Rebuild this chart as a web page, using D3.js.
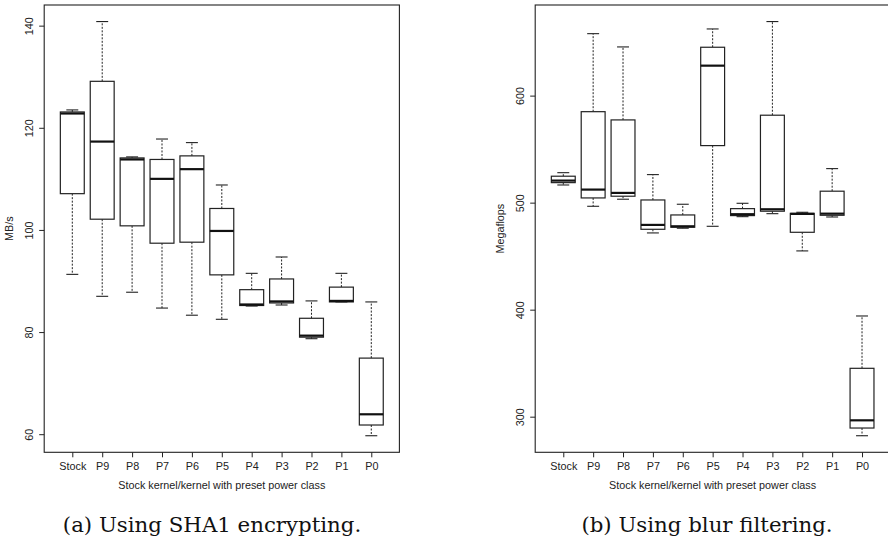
<!DOCTYPE html>
<html>
<head>
<meta charset="utf-8">
<script src="https://cdn.jsdelivr.net/npm/d3@7"></script>
<style>
  html, body { margin: 0; padding: 0; background: #fff; }
  svg { display: block; }
  .tick text { font-family: "Liberation Sans", Arial, sans-serif; font-size: 10.8px; fill: #222; }
  .axis-title { font-family: "Liberation Sans", Arial, sans-serif; font-size: 10.8px; fill: #222; }
  .caption { font-family: "DejaVu Serif", serif; font-size: 21.3px; fill: #111; }
</style>
</head>
<body>
<svg id="chart" width="888" height="541"></svg>
<script>
// Power-class categories on the x axis
const categories = ["Stock", "P9", "P8", "P7", "P6", "P5", "P4", "P3", "P2", "P1", "P0"];

// (a) SHA1 encrypting throughput, MB/s — five-number summaries per category
const sha1Min    = [91.3,  87.0,  87.8,  84.7,  83.3,  82.5, 85.1, 85.3, 78.7, 85.9, 59.7];
const sha1Q1     = [107.1, 102.1, 100.8, 97.4,  97.6,  91.2, 85.2, 85.7, 79.0, 85.9, 61.8];
const sha1Median = [122.8, 117.3, 113.8, 110.0, 111.9, 99.8, 85.4, 86.0, 79.3, 86.1, 63.9];
const sha1Q3     = [123.1, 129.1, 114.1, 113.8, 114.5, 104.2, 88.3, 90.4, 82.7, 88.8, 74.9];
const sha1Max    = [123.5, 140.8, 114.3, 117.8, 117.1, 108.8, 91.5, 94.7, 86.1, 91.5, 85.9];
const sha1Ticks  = [60, 80, 100, 120, 140];

// (b) Blur filtering performance, Megaflops
const blurMin    = [516.5, 496.6, 503.2, 471.7, 476.1, 477.9, 486.9, 489.7, 454.9, 486.6, 282.2];
const blurQ1     = [518.7, 504.4, 506.0, 475.1, 477.0, 553.3, 487.9, 492.0, 472.3, 488.2, 289.4];
const blurMedian = [520.6, 512.2, 509.1, 479.2, 477.9, 628.0, 489.2, 493.8, 489.5, 489.7, 296.6];
const blurQ3     = [524.7, 585.0, 577.3, 502.5, 488.5, 645.2, 494.4, 581.7, 490.0, 510.7, 345.2];
const blurMax    = [528.0, 657.9, 645.5, 526.2, 498.5, 662.3, 499.4, 669.2, 491.0, 531.8, 394.1];
const blurTicks  = [300, 400, 500, 600];

const xTitle = "Stock kernel/kernel with preset power class";

const svg = d3.select("#chart");
const ink = "#222";

function drawPanel(opts) {
  const { left, right, top, bottom, mins, q1s, meds, q3s, maxs, ticks, yTitle, caption, captionX } = opts;
  const g = svg.append("g");

  // x: category i sits at position i+1, range padded by 4% like R's default
  const n = categories.length;
  const xPad = (n - 0.5 - 0.5 + 1) * 0.04;
  const x = d3.scaleLinear().domain([0.5 - xPad, n + 0.5 + xPad]).range([left, right]);

  const lo = d3.min(mins), hi = d3.max(maxs);
  const yPad = (hi - lo) * 0.04;
  const y = d3.scaleLinear().domain([lo - yPad, hi + yPad]).range([bottom, top]);

  const boxW = x(1.4) - x(1.0);   // half box width (boxwex 0.8)
  const capW = x(1.2) - x(1.0);   // half staple width

  const data = categories.map((c, i) => ({
    c, pos: i + 1, min: mins[i], q1: q1s[i], med: meds[i], q3: q3s[i], max: maxs[i]
  }));

  const boxes = g.selectAll("g.box").data(data).join("g").attr("class", "box");

  // dashed whiskers
  boxes.append("line")
    .attr("x1", d => x(d.pos)).attr("x2", d => x(d.pos))
    .attr("y1", d => y(d.q3)).attr("y2", d => y(d.max))
    .attr("stroke", ink).attr("stroke-width", 1).attr("stroke-dasharray", "2,1.5");
  boxes.append("line")
    .attr("x1", d => x(d.pos)).attr("x2", d => x(d.pos))
    .attr("y1", d => y(d.q1)).attr("y2", d => y(d.min))
    .attr("stroke", ink).attr("stroke-width", 1).attr("stroke-dasharray", "2,1.5");

  // staples
  boxes.append("line")
    .attr("x1", d => x(d.pos) - capW).attr("x2", d => x(d.pos) + capW)
    .attr("y1", d => y(d.max)).attr("y2", d => y(d.max))
    .attr("stroke", ink).attr("stroke-width", 1.1);
  boxes.append("line")
    .attr("x1", d => x(d.pos) - capW).attr("x2", d => x(d.pos) + capW)
    .attr("y1", d => y(d.min)).attr("y2", d => y(d.min))
    .attr("stroke", ink).attr("stroke-width", 1.1);

  // interquartile box
  boxes.append("rect")
    .attr("x", d => x(d.pos) - boxW).attr("width", 2 * boxW)
    .attr("y", d => y(d.q3)).attr("height", d => y(d.q1) - y(d.q3))
    .attr("fill", "#fff").attr("stroke", ink).attr("stroke-width", 1.2);

  // median
  boxes.append("line")
    .attr("x1", d => x(d.pos) - boxW).attr("x2", d => x(d.pos) + boxW)
    .attr("y1", d => y(d.med)).attr("y2", d => y(d.med))
    .attr("stroke", "#111").attr("stroke-width", 2.2);

  // frame
  g.append("rect")
    .attr("x", left).attr("y", top).attr("width", right - left).attr("height", bottom - top)
    .attr("fill", "none").attr("stroke", ink).attr("stroke-width", 1.1);

  // y axis with rotated labels
  const yAxis = g.append("g").attr("transform", `translate(${left},0)`)
    .call(d3.axisLeft(y).tickValues(ticks).tickSize(5).tickFormat(d3.format("d")));
  yAxis.select(".domain").remove();
  yAxis.selectAll(".tick line").attr("stroke", ink);
  yAxis.selectAll(".tick text")
    .attr("transform", "rotate(-90)")
    .attr("x", 0).attr("y", -11).attr("dy", 0)
    .attr("text-anchor", "middle");

  // x axis
  const xAxis = g.append("g").attr("transform", `translate(0,${bottom})`)
    .call(d3.axisBottom(x).tickValues(data.map(d => d.pos)).tickSize(5)
      .tickFormat(v => categories[v - 1]));
  xAxis.select(".domain").remove();
  xAxis.selectAll(".tick line").attr("stroke", ink);
  xAxis.selectAll(".tick text").attr("y", 17.7).attr("dy", 0);

  // axis titles
  g.append("text").attr("class", "axis-title")
    .attr("x", (left + Math.min(right, 890)) / 2).attr("y", bottom + 36.7)
    .attr("text-anchor", "middle").text(xTitle);
  g.append("text").attr("class", "axis-title")
    .attr("transform", `translate(${left - 31},${(top + bottom) / 2}) rotate(-90)`)
    .attr("text-anchor", "middle").text(yTitle);

  // sub-figure caption
  svg.append("text").attr("class", "caption")
    .attr("x", captionX).attr("y", 532.3)
    .attr("text-anchor", "middle").text(caption);
}

drawPanel({
  left: 44.2, right: 399.4, top: 5, bottom: 452.3,
  mins: sha1Min, q1s: sha1Q1, meds: sha1Median, q3s: sha1Q3, maxs: sha1Max,
  ticks: sha1Ticks, yTitle: "MB/s", caption: "(a) Using SHA1 encrypting.", captionX: 212
});

drawPanel({
  left: 535.2, right: 890.1, top: 5, bottom: 452.3,
  mins: blurMin, q1s: blurQ1, meds: blurMedian, q3s: blurQ3, maxs: blurMax,
  ticks: blurTicks, yTitle: "Megaflops", caption: "(b) Using blur filtering.", captionX: 707
});
</script>
</body>
</html>
